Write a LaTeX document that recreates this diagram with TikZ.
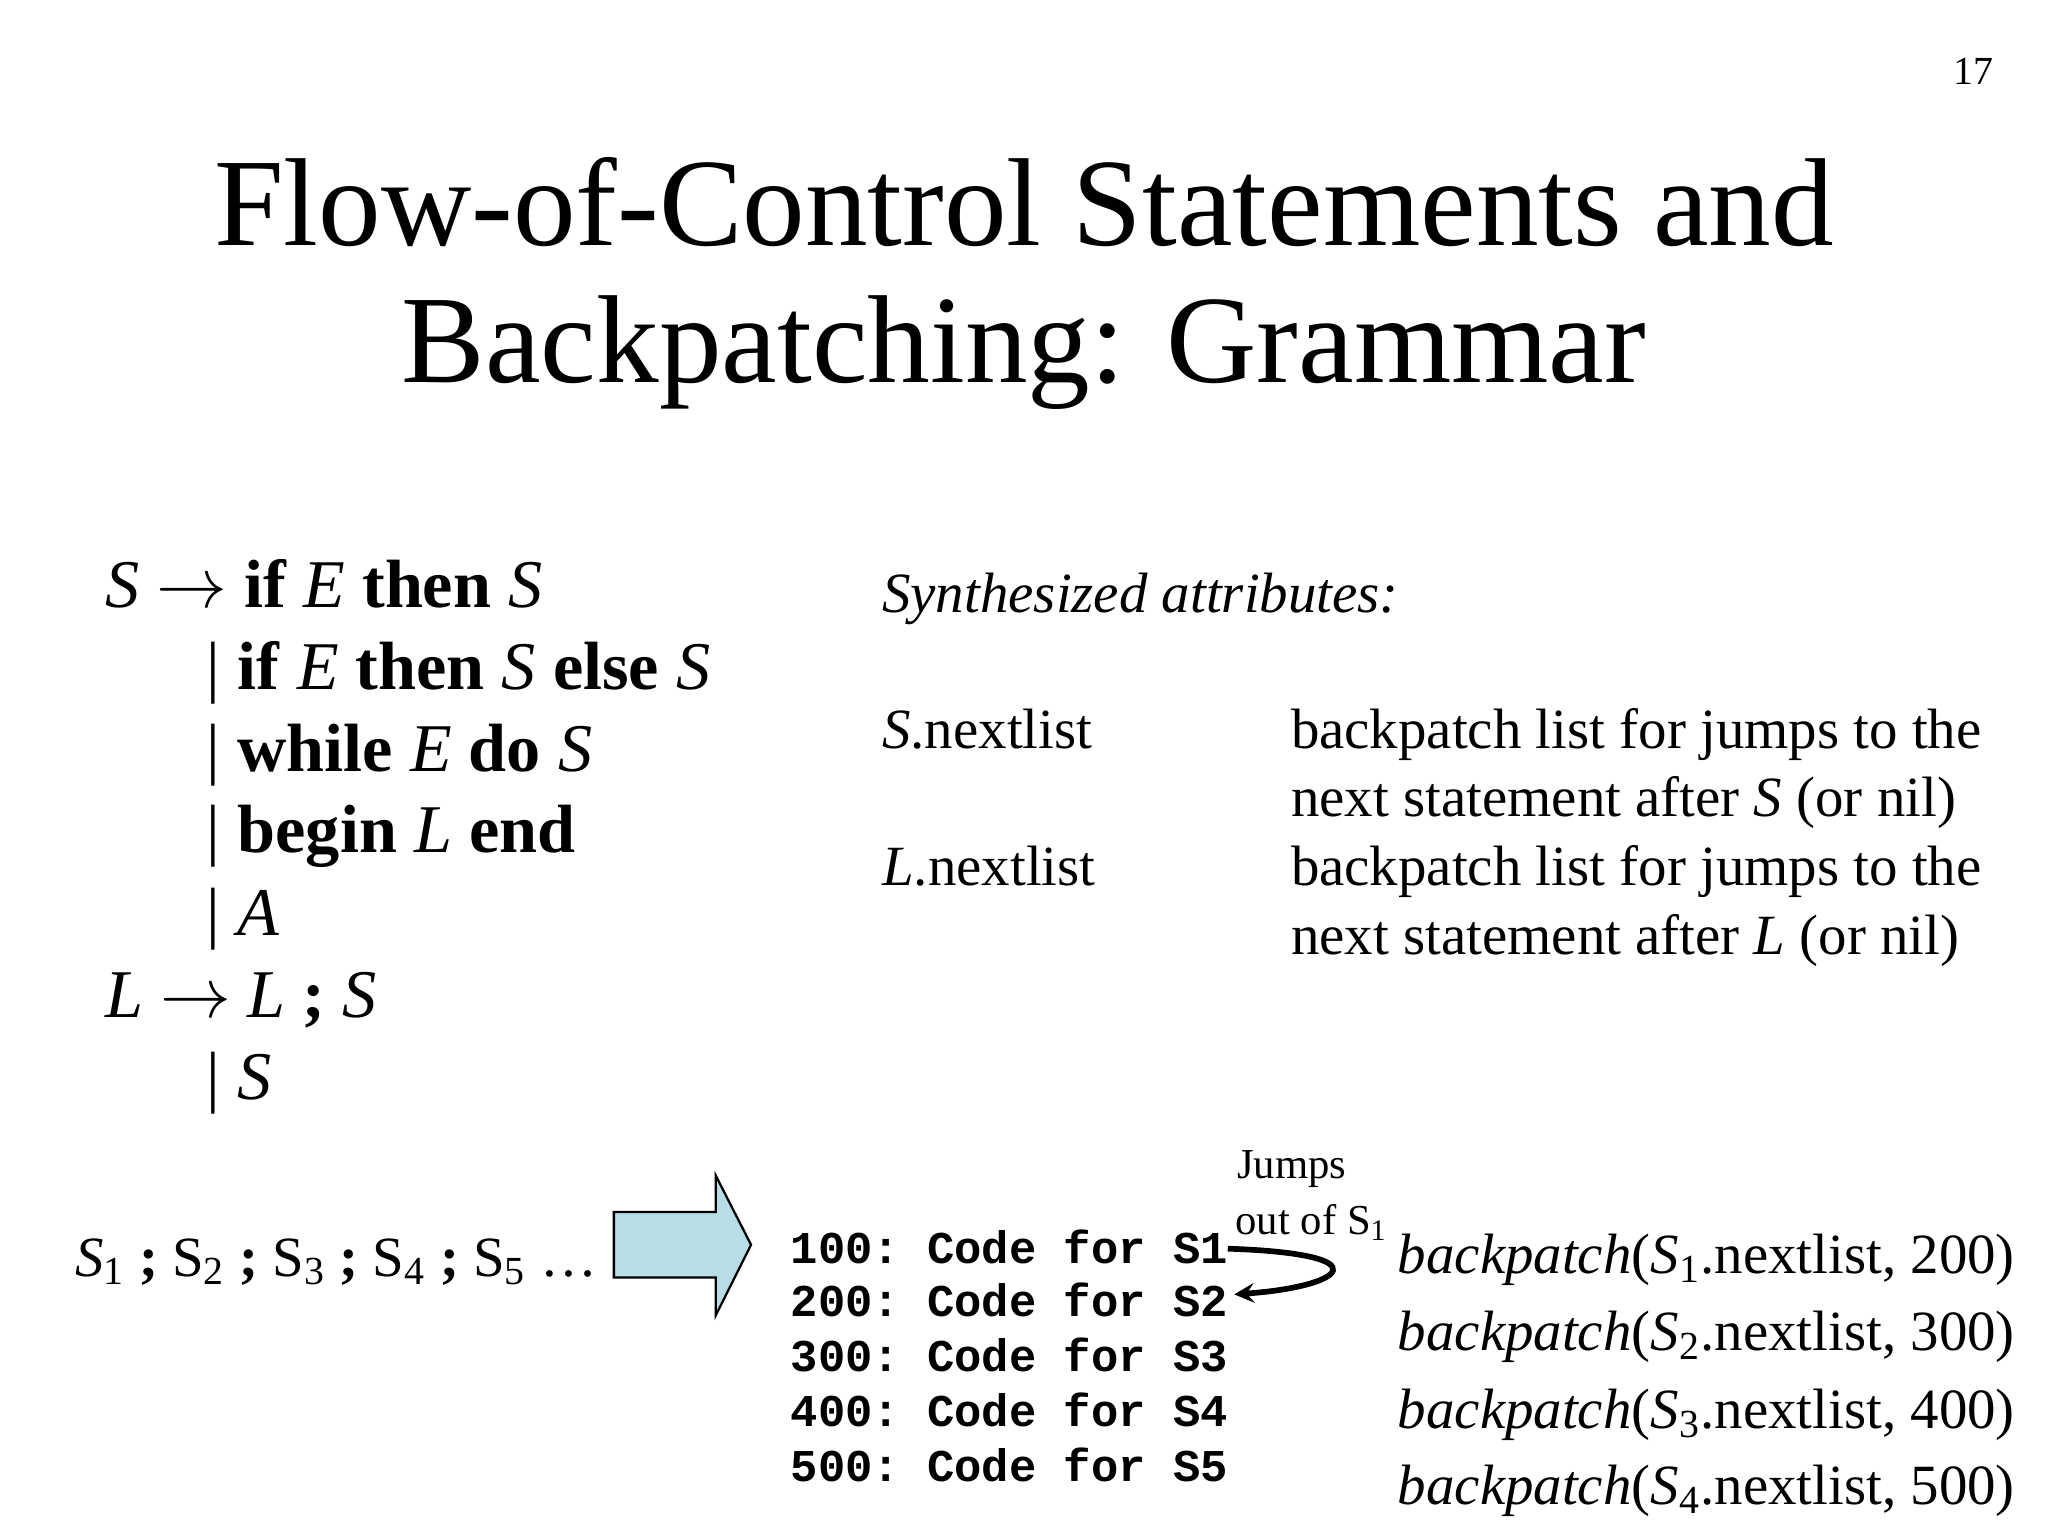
\documentclass[tikz,border=0pt]{standalone}
\usepackage{fontspec}
\setmainfont{Liberation Serif}
\setmonofont{Liberation Mono}
\newcommand{\ra}{\ensuremath{\rightarrow}}
\begin{document}
\begin{tikzpicture}[x=0.4592pt,y=-0.4592pt,
  body/.style={font=\fontsize{24}{28}\selectfont,inner sep=0,anchor=base west},
  attr/.style={font=\fontsize{20}{24}\selectfont,inner sep=0,anchor=base west},
  code/.style={font=\fontsize{16}{20}\selectfont\ttfamily\bfseries,inner sep=0,anchor=base west},
  bp/.style={font=\fontsize{20}{24}\selectfont,inner sep=0,anchor=base east}]
\useasboundingbox (0,0) rectangle (1568,1176);
\node[font=\fontsize{14}{16}\selectfont] (pg) at (1511,55) {17};
\node[font=\fontsize{44}{52}\selectfont] (t1) at (784,155) {Flow-of-Control Statements and};
\node[font=\fontsize{44}{52}\selectfont] (t2) at (784,270) {Backpatching: Grammar};
% grammar
\node[body] (g1) at (80,465) {\textit{S} \ra\ \textbf{if} \textit{E} \textbf{then} \textit{S}};
\node[body] (g2) at (158,528) {| \textbf{if} \textit{E} \textbf{then} \textit{S} \textbf{else} \textit{S}};
\node[body] (g3) at (158,591) {| \textbf{while} \textit{E} \textbf{do} \textit{S}};
\node[body] (g4) at (158,653) {| \textbf{begin} \textit{L} \textbf{end}};
\node[body] (g5) at (158,716) {| \textit{A}};
\node[body] (g6) at (80,779) {\textit{L} \ra\ \textit{L} \textbf{;} \textit{S}};
\node[body] (g7) at (158,842) {| \textit{S}};
% attributes
\node[attr] (sa) at (675,469) {\textit{Synthesized attributes:}};
\node[attr] (sn) at (675,573) {\textit{S}.nextlist};
\node[attr] (d1) at (988,573) {backpatch list for jumps to the};
\node[attr] (d2) at (988,625) {next statement after \textit{S} (or nil)};
\node[attr] (ln) at (675,678) {\textit{L}.nextlist};
\node[attr] (d3) at (988,678) {backpatch list for jumps to the};
\node[attr] (d4) at (988,731) {next statement after \textit{L} (or nil)};
% sequence
\node[attr] (seq) at (57,977) {\textit{S}\textsubscript{1} \textbf{;} S\textsubscript{2} \textbf{;} S\textsubscript{3} \textbf{;} S\textsubscript{4} \textbf{;} S\textsubscript{5} \dots};
\draw[fill={rgb,255:red,183;green,222;blue,228},line width=0.8pt,line join=miter]
 (470,928) -- (548,928) -- (548,900) -- (575,953) -- (548,1007) -- (548,978) -- (470,978) -- cycle;
% code
\node[code] (c1) at (605,967) {100: Code for S1};
\node[code] (c2) at (605,1008) {200: Code for S2};
\node[code] (c3) at (605,1050) {300: Code for S3};
\node[code] (c4) at (605,1092) {400: Code for S4};
\node[code] (c5) at (605,1134) {500: Code for S5};
\node[font=\fontsize{15}{18}\selectfont,inner sep=0] (j1) at (989,895) {Jumps};
\node[font=\fontsize{15}{18}\selectfont,inner sep=0] (j2) at (1004,936) {out of S\textsubscript{1}};
\coordinate (a1) at (940,956);
\coordinate (a2) at (945,991);
\draw[line width=2pt,-stealth] (a1) .. controls (1060,960) and (1030,985) .. (a2);
% backpatch
\node[bp] (b1) at (1543,975) {\textit{backpatch}(\textit{S}\textsubscript{1}.nextlist, 200)};
\node[bp] (b2) at (1543,1034) {\textit{backpatch}(\textit{S}\textsubscript{2}.nextlist, 300)};
\node[bp] (b3) at (1543,1094) {\textit{backpatch}(\textit{S}\textsubscript{3}.nextlist, 400)};
\node[bp] (b4) at (1543,1152) {\textit{backpatch}(\textit{S}\textsubscript{4}.nextlist, 500)};
\end{tikzpicture}
\end{document}
